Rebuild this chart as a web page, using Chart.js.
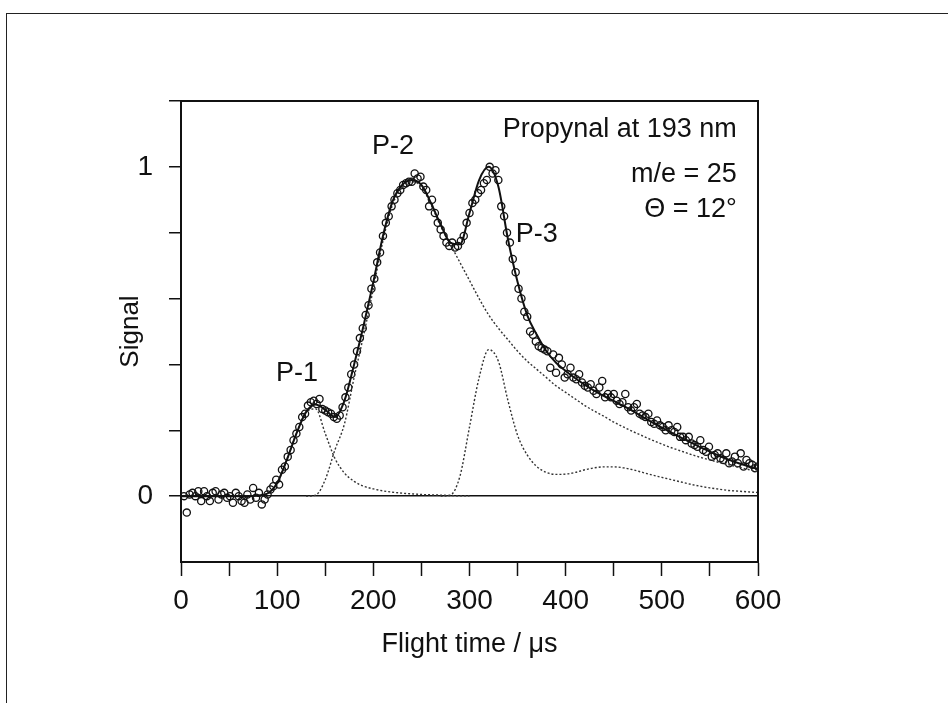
<!DOCTYPE html>
<html>
<head>
<meta charset="utf-8">
<script src="https://cdn.jsdelivr.net/npm/chart.js@4.4.0/dist/chart.umd.min.js"></script>
<style>
  html, body { margin: 0; padding: 0; background: #fff; }
  #wrap { position: relative; width: 948px; height: 703px; overflow: hidden; }
  #frame { position: absolute; left: 6px; top: 13px; width: 960px; height: 720px;
           border-top: 1.5px solid #222; border-left: 1.5px solid #222; }
  canvas { position: absolute; left: 0; top: 0; }
</style>
</head>
<body>
<div id="wrap">
  <div id="frame"></div>
  <canvas id="chart-tof" width="948" height="703"></canvas>
</div>
<script>
// measured points (flight time in us, signal)
var pointTime = [
  3, 6, 9, 12, 15, 18, 21, 24, 27, 30, 33, 36, 39, 42, 45, 48, 51, 54, 57, 60,
  63, 66, 69, 72, 75, 78, 81, 84, 87, 90, 93, 96, 99, 102, 105, 108, 111, 114, 117, 120,
  123, 126, 129, 132, 135, 138, 141, 144, 147, 150, 153, 156, 159, 162, 165, 168, 171, 174, 177, 180,
  183, 186, 189, 192, 195, 198, 201, 204, 207, 210, 213, 216, 219, 222, 225, 228, 231, 234, 237, 240,
  243, 246, 249, 252, 255, 258, 261, 264, 267, 270, 273, 276, 279, 282, 285, 288, 291, 294, 297, 300,
  303, 306, 309, 312, 315, 318, 321, 324, 327, 330, 333, 336, 339, 342, 345, 348, 351, 354, 357, 360,
  363, 366, 369, 372, 375, 378, 381, 384, 387, 390, 393, 396, 399, 402, 405, 408, 411, 414, 417, 420,
  423, 426, 429, 432, 435, 438, 441, 444, 447, 450, 453, 456, 459, 462, 465, 468, 471, 474, 477, 480,
  483, 486, 489, 492, 495, 498, 501, 504, 507, 510, 513, 516, 519, 522, 525, 528, 531, 534, 537, 540,
  543, 546, 549, 552, 555, 558, 561, 564, 567, 570, 573, 576, 579, 582, 585, 588, 591, 594, 597, 600
];
var pointSignal = [
  0.0, -0.05, 0.005, 0.01, 0.0, 0.015, -0.015, 0.015, 0.0, -0.015, 0.01, 0.015, -0.01, 0.005, 0.01, -0.005, 0.0, -0.02, 0.01, 0.0,
  -0.015, -0.02, 0.005, -0.01, 0.025, -0.005, 0.01, -0.025, -0.01, 0.005, 0.02, 0.03, 0.05, 0.035, 0.08, 0.09, 0.12, 0.14, 0.17, 0.19,
  0.21, 0.24, 0.25, 0.275, 0.285, 0.29, 0.28, 0.295, 0.265, 0.26, 0.255, 0.25, 0.24, 0.235, 0.245, 0.27, 0.3, 0.33, 0.37, 0.4,
  0.44, 0.48, 0.51, 0.55, 0.58, 0.63, 0.66, 0.71, 0.74, 0.79, 0.83, 0.85, 0.88, 0.9, 0.92, 0.93, 0.945, 0.95, 0.955, 0.955,
  0.98, 0.965, 0.97, 0.94, 0.93, 0.88, 0.9, 0.86, 0.83, 0.81, 0.79, 0.77, 0.76, 0.77, 0.755, 0.76, 0.775, 0.79, 0.83, 0.86,
  0.89, 0.9, 0.92, 0.93, 0.95, 0.96, 1.0, 0.98, 0.99, 0.96, 0.88, 0.85, 0.8, 0.77, 0.72, 0.68, 0.63, 0.6, 0.56, 0.545,
  0.5, 0.49, 0.47, 0.455, 0.45, 0.445, 0.44, 0.39, 0.43, 0.375, 0.42, 0.4, 0.36, 0.37, 0.39, 0.36, 0.355, 0.37, 0.345, 0.335,
  0.33, 0.34, 0.32, 0.31, 0.33, 0.35, 0.3, 0.31, 0.3, 0.31, 0.29, 0.28, 0.285, 0.31, 0.27, 0.26, 0.27, 0.28, 0.25, 0.245,
  0.24, 0.25, 0.225, 0.22, 0.23, 0.215, 0.21, 0.2, 0.215, 0.2, 0.195, 0.21, 0.18, 0.18, 0.17, 0.18, 0.16, 0.155, 0.15, 0.17,
  0.14, 0.135, 0.15, 0.12, 0.125, 0.13, 0.115, 0.11, 0.13, 0.1, 0.105, 0.12, 0.1, 0.13, 0.09, 0.11, 0.1, 0.095, 0.085, 0.09
];

// fitted curves, sampled every 10 us
var fitTime = [
  0, 10, 20, 30, 40, 50, 60, 70, 80, 90, 100, 110, 120, 130, 140, 150, 160, 170, 180, 190,
  200, 210, 220, 230, 240, 250, 260, 270, 280, 290, 300, 310, 320, 330, 340, 350, 360, 370, 380, 390,
  400, 410, 420, 430, 440, 450, 460, 470, 480, 490, 500, 510, 520, 530, 540, 550, 560, 570, 580, 590, 600
];
var fitTotal = [
  0, 0, 0, 0, 0, 0, 0, 0, 0.002, 0.008, 0.04, 0.11, 0.19, 0.255, 0.278, 0.262, 0.24, 0.29, 0.40, 0.52,
  0.65, 0.79, 0.895, 0.945, 0.96, 0.945, 0.89, 0.825, 0.77, 0.765, 0.86, 0.96, 1.0, 0.94, 0.78, 0.65, 0.55, 0.49, 0.44, 0.405,
  0.38, 0.358, 0.338, 0.32, 0.304, 0.289, 0.274, 0.258, 0.241, 0.224, 0.208, 0.193, 0.178, 0.163, 0.149, 0.135, 0.122, 0.11, 0.1, 0.091, 0.083
];
var fitP1 = [
  0, 0, 0, 0, 0, 0, 0, 0, 0.002, 0.008, 0.04, 0.11, 0.19, 0.255, 0.265, 0.19, 0.115, 0.07, 0.045, 0.03,
  0.022, 0.016, 0.012, 0.009, 0.007, 0.005, 0.004, 0.003, 0.002, 0.001, 0.001, null, null, null, null, null, null, null, null, null,
  null, null, null, null, null, null, null, null, null, null, null, null, null, null, null, null, null, null, null, null, null
];
var fitP2 = [
  null, null, null, null, null, null, null, null, null, null, null, null, null, 0, 0.003, 0.05, 0.14, 0.22, 0.36, 0.49,
  0.63, 0.775, 0.885, 0.937, 0.955, 0.94, 0.885, 0.82, 0.765, 0.71, 0.655, 0.6, 0.55, 0.51, 0.475, 0.44, 0.41, 0.385, 0.36, 0.335,
  0.315, 0.295, 0.275, 0.258, 0.242, 0.225, 0.21, 0.196, 0.183, 0.17, 0.158, 0.147, 0.137, 0.127, 0.118, 0.11, 0.102, 0.095, 0.088, 0.081, 0.074
];
var fitP3 = [
  null, null, null, null, null, null, null, null, null, null, null, null, null, null, null, null, null, null, null, null,
  null, null, null, null, null, null, null, 0, 0.003, 0.06, 0.21, 0.36, 0.445, 0.41, 0.29, 0.185, 0.125, 0.09, 0.072, 0.066,
  0.067, 0.072, 0.08, 0.086, 0.089, 0.089, 0.086, 0.08, 0.072, 0.064, 0.057, 0.05, 0.043, 0.036, 0.03, 0.025, 0.021, 0.017, 0.015, 0.013, 0.011
];

// text labels placed in data units
var peakLabels = [
  { text: "P-1", x: 120.6, y: 0.371, align: "center" },
  { text: "P-2", x: 220.4, y: 1.061, align: "center" },
  { text: "P-3", x: 370.0, y: 0.793, align: "center" },
  { text: "Propynal at 193 nm", x: 578, y: 1.112, align: "right" },
  { text: "m/e = 25", x: 578, y: 0.976, align: "right" },
  { text: "\u0398 = 12\u00b0", x: 578, y: 0.869, align: "right" }
];

var FONT = "'Liberation Sans', Arial, sans-serif";

function pairs(xs, ys) {
  var out = [];
  for (var i = 0; i < xs.length; i++) {
    out.push({ x: xs[i], y: ys[i] });
  }
  return out;
}

function dotted(ys) {
  return {
    type: "line",
    data: pairs(fitTime, ys),
    borderColor: "#333",
    borderWidth: 1.4,
    borderDash: [2, 2],
    pointRadius: 0,
    cubicInterpolationMode: "monotone",
    spanGaps: false,
    fill: false
  };
}

var boxPlugin = {
  id: "box",
  afterDatasetsDraw: function(chart) {
    var c = chart.ctx, a = chart.chartArea;
    c.save();
    c.strokeStyle = "#111";
    c.lineWidth = 2;
    c.strokeRect(a.left, a.top, a.right - a.left, a.bottom - a.top);
    c.restore();
  }
};

var labelPlugin = {
  id: "peakLabels",
  afterDraw: function(chart) {
    var c = chart.ctx;
    var xs = chart.scales.x, ys = chart.scales.y;
    c.save();
    c.fillStyle = "#111";
    c.font = "27px " + FONT;
    c.textBaseline = "middle";
    peakLabels.forEach(function(l) {
      c.textAlign = l.align;
      c.fillText(l.text, xs.getPixelForValue(l.x), ys.getPixelForValue(l.y));
    });
    c.restore();
  }
};

var ctx = document.getElementById("chart-tof").getContext("2d");

new Chart(ctx, {
  data: {
    datasets: [
      {
        type: "line",
        label: "fit",
        data: pairs(fitTime, fitTotal),
        borderColor: "#111",
        borderWidth: 2,
        pointRadius: 0,
        cubicInterpolationMode: "monotone",
        fill: false
      },
      dotted(fitP1),
      dotted(fitP2),
      dotted(fitP3),
      {
        type: "scatter",
        label: "data",
        data: pairs(pointTime, pointSignal),
        pointRadius: 3.6,
        pointBorderWidth: 1.3,
        borderColor: "#111",
        backgroundColor: "rgba(255,255,255,0)"
      }
    ]
  },
  options: {
    responsive: false,
    animation: false,
    layout: { padding: { left: 0, top: 101, right: 190, bottom: 0 } },
    plugins: {
      legend: { display: false },
      tooltip: { enabled: false }
    },
    scales: {
      x: {
        type: "linear",
        position: "bottom",
        min: 0,
        max: 600,
        afterFit: function(s) { s.height = 141; },
        ticks: {
          stepSize: 50,
          autoSkip: false,
          maxRotation: 0,
          padding: 8,
          color: "#111",
          font: { family: FONT, size: 28 },
          callback: function(v) { return v % 100 === 0 ? String(v) : ""; }
        },
        grid: { drawOnChartArea: false, tickLength: 14, tickColor: "#111", tickWidth: 1.5 },
        border: { color: "#111", width: 2 },
        title: {
          display: true,
          text: "Flight time / \u03bcs",
          color: "#111",
          font: { family: FONT, size: 27 },
          padding: { top: 0, bottom: 42 }
        }
      },
      y: {
        type: "linear",
        min: -0.2,
        max: 1.2,
        afterFit: function(s) { s.width = 181; },
        afterBuildTicks: function(s) {
          s.ticks = s.ticks.filter(function(t) { return t.value > -0.1; });
        },
        ticks: {
          stepSize: 0.2,
          padding: 16,
          color: "#111",
          font: { family: FONT, size: 28 },
          callback: function(v) {
            if (Math.abs(v) < 1e-9) return "0";
            if (Math.abs(v - 1) < 1e-9) return "1";
            return "";
          }
        },
        grid: {
          tickLength: 12,
          tickColor: "#111",
          tickWidth: 1.5,
          lineWidth: 1.5,
          color: function(c) {
            return c.tick && Math.abs(c.tick.value) < 1e-9 ? "#111" : "rgba(0,0,0,0)";
          }
        },
        border: { color: "#111", width: 2 },
        title: {
          display: true,
          text: "Signal",
          color: "#111",
          font: { family: FONT, size: 26 },
          padding: { top: 115, bottom: 0 }
        }
      }
    }
  },
  plugins: [boxPlugin, labelPlugin]
});
</script>
</body>
</html>
